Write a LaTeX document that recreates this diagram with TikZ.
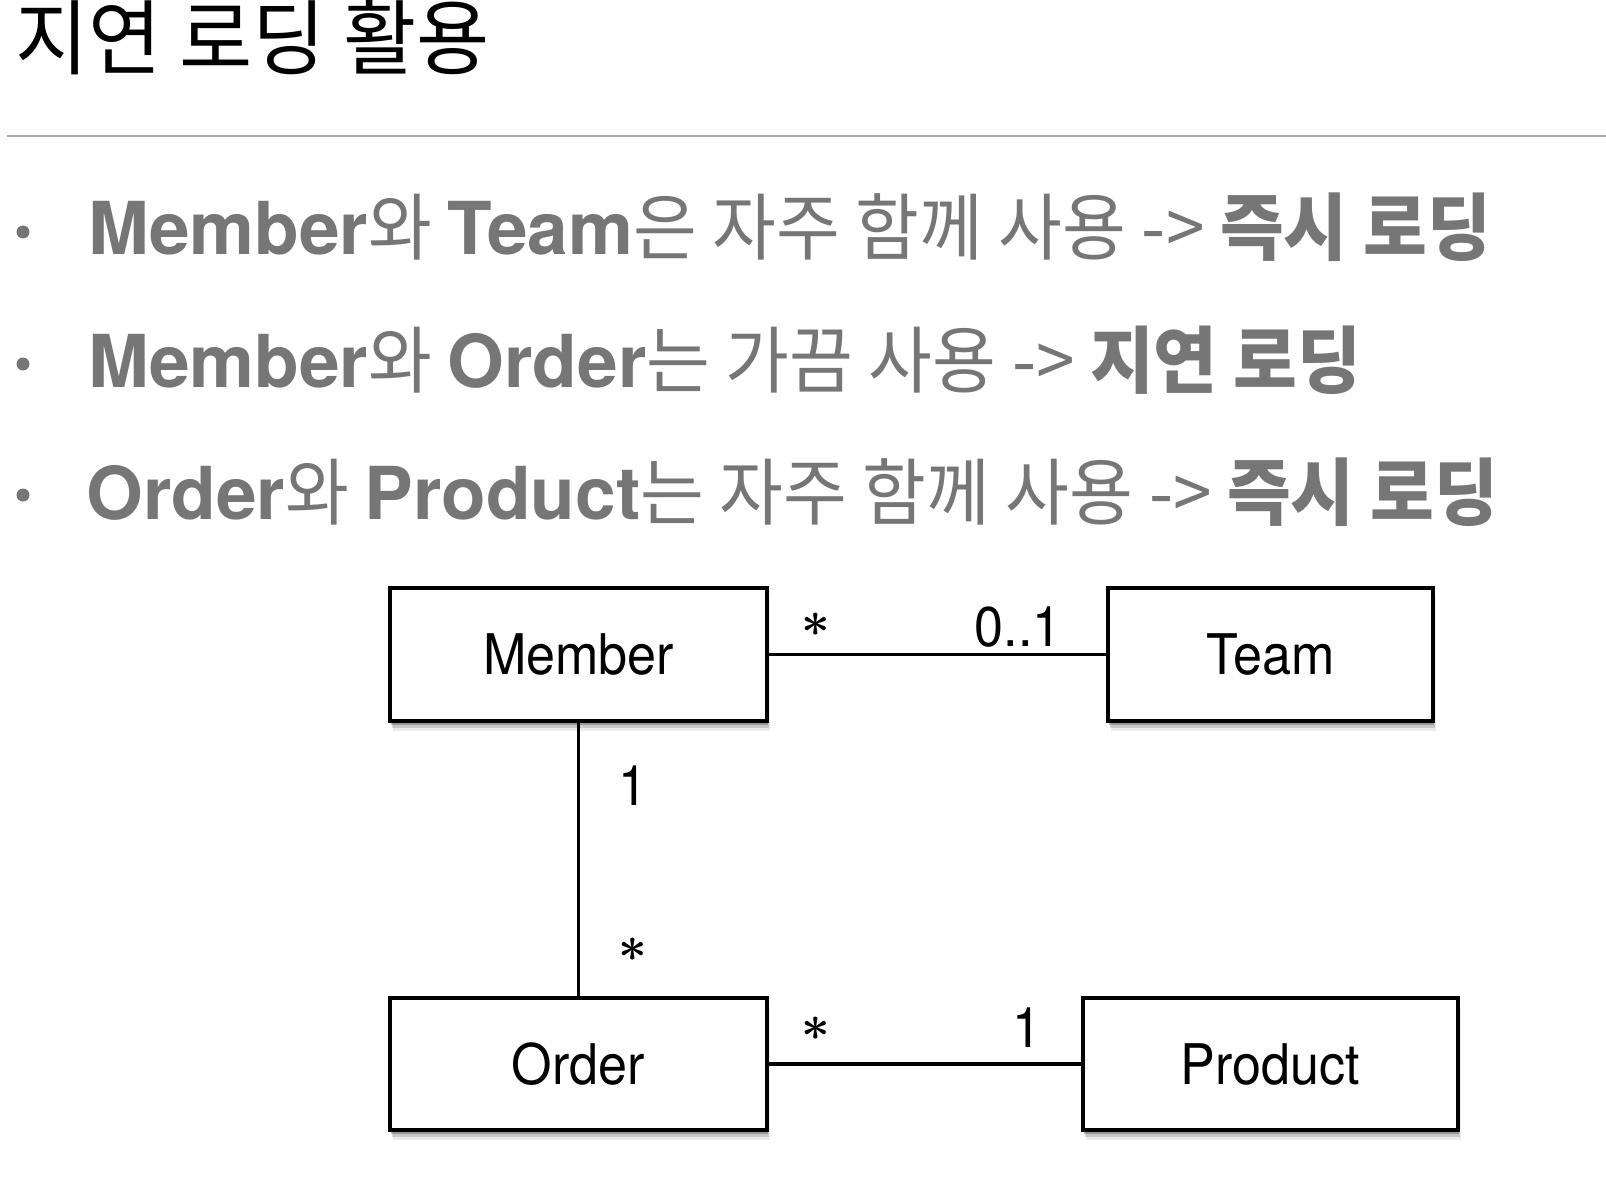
\documentclass[tikz,border=0pt]{standalone}
\usepackage{fontspec}
\usetikzlibrary{shadows}
\setmainfont{TeX Gyre Heros}
\newfontfamily\korfont[FakeStretch=0.95]{Noto Sans CJK KR}
\newfontfamily\kortitle[FakeStretch=0.97]{Noto Sans CJK KR}
\newfontfamily\diagfont[FakeStretch=0.93]{TeX Gyre Heros}
\newcommand\korr[1]{{\korfont #1}}
\newcommand\korb[1]{{\korfont\bfseries #1}}
\definecolor{txtgray}{RGB}{118,118,118}
\definecolor{rulegray}{RGB}{170,170,170}
\tikzset{
  umlbox/.style={draw=black, line width=1.6pt, fill=white, inner sep=0pt,
    font=\diagfont\fontsize{28}{32}\selectfont,
    drop shadow={shadow xshift=1.5pt, shadow yshift=-5pt, opacity=0.08, fill=black},
    drop shadow={shadow xshift=1pt, shadow yshift=-3.5pt, opacity=0.15, fill=black},
    drop shadow={shadow xshift=0.5pt, shadow yshift=-2pt, opacity=0.25, fill=black}},
  conn/.style={draw=black, line width=1.6pt},
  mult/.style={inner sep=0pt, font=\diagfont\fontsize{28}{32}\selectfont},
  star/.style={inner sep=0pt, font=\fontsize{23}{27}\selectfont\boldmath},
  bulletline/.style={anchor=base west, inner sep=0pt, text=txtgray,
    font=\fontsize{36.5}{42}\selectfont},
  bulletdot/.style={fill=txtgray, draw=none}
}
\begin{document}
\begin{tikzpicture}[x=0.5pt,y=-0.5pt]
\useasboundingbox (0,0) rectangle (1606,1198);
% title
\node[anchor=base west, inner sep=0pt, font=\kortitle\fontsize{41}{48}\selectfont] (title) at (15,69) {지연 로딩 활용};
\draw[rulegray, line width=1pt] (7,136) coordinate (ruleL) -- (1606,136) coordinate (ruleR);
% bullets
\fill[bulletdot] (23,232) circle (6.5);
\fill[bulletdot] (23,364) circle (6.5);
\fill[bulletdot] (23,495) circle (6.5);
\node[bulletline] (b1) at (88,255) {\textbf{Member}\korr{와 }\textbf{Team}\korr{은 자주 함께 사용 -> }\korb{즉시 로딩}};
\node[bulletline] (b2) at (88,387) {\textbf{Member}\korr{와 }\textbf{Order}\korr{는 가끔 사용 -> }\korb{지연 로딩}};
\node[bulletline] (b3) at (86,519) {\textbf{Order}\korr{와 }\textbf{Product}\korr{는 자주 함께 사용 -> }\korb{즉시 로딩}};
% diagram
\node[umlbox, minimum width=188.5pt, minimum height=66.5pt] (member) at (578.5,654.5) {Member};
\node[umlbox, minimum width=162.5pt, minimum height=66.5pt] (team) at (1270.5,654.5) {Team};
\node[umlbox, minimum width=188.5pt, minimum height=66pt] (order) at (578.5,1064) {Order};
\node[umlbox, minimum width=187.5pt, minimum height=66pt] (product) at (1270.5,1064) {Product};
\draw[conn] (member.east) -- (team.west);
\draw[conn] (member.south) -- (order.north);
\draw[conn] (order.east) -- (product.west);
% multiplicities
\node[star] (m1) at (816,625) {$\ast$};
\node[mult, anchor=base east] (m2) at (1062,646) {0..1};
\node[mult, anchor=base] (m3) at (633,805) {1};
\node[star] (m4) at (633,950) {$\ast$};
\node[star] (m5) at (816,1029) {$\ast$};
\node[mult, anchor=base] (m6) at (1027,1047) {1};
\end{tikzpicture}
\end{document}
